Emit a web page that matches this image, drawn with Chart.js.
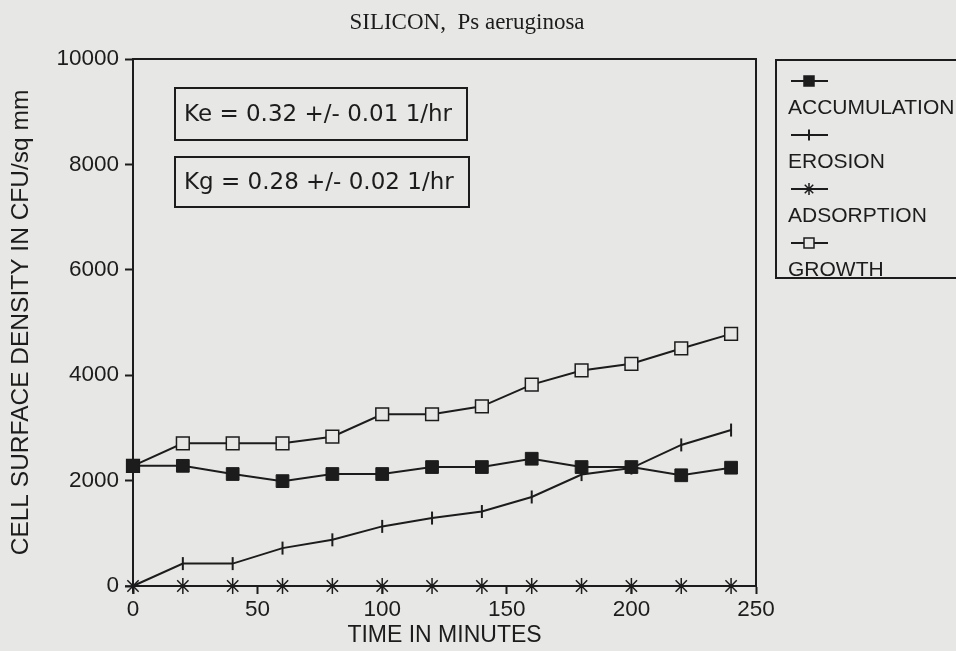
<!DOCTYPE html>
<html>
<head>
<meta charset="utf-8">
<script src="https://cdn.jsdelivr.net/npm/chart.js@4.4.1/dist/chart.umd.min.js"></script>
<style>
  html, body { margin: 0; padding: 0; background: #e7e7e5; }
  #wrap { width: 956px; height: 651px; position: relative; }
</style>
</head>
<body>
<div id="wrap"><canvas id="c" width="956" height="651"></canvas></div>
<script>
// ---- data ----
const chartTitle = "SILICON,  Ps aeruginosa";
const xTitle = "TIME IN MINUTES";
const yTitle = "CELL SURFACE DENSITY IN CFU/sq mm";
const seriesNames = ["ACCUMULATION", "EROSION", "ADSORPTION", "GROWTH"];
const timeMinutes = [0, 20, 40, 60, 80, 100, 120, 140, 160, 180, 200, 220, 240];
const accumulation = [2280, 2280, 2125, 1990, 2125, 2125, 2257, 2257, 2415, 2257, 2257, 2101, 2245];
const erosion = [0, 425, 425, 719, 876, 1131, 1289, 1413, 1689, 2114, 2238, 2677, 2959];
const adsorption = [0, 0, 0, 0, 0, 0, 0, 0, 0, 0, 0, 0, 0];
const growth = [2280, 2707, 2707, 2707, 2833, 3259, 3259, 3409, 3822, 4090, 4216, 4508, 4784];
const xTicks = [0, 50, 100, 150, 200, 250];
const yTicks = [0, 2000, 4000, 6000, 8000, 10000];
const annotations = ["Ke = 0.32 +/- 0.01 1/hr", "Kg = 0.28 +/- 0.02 1/hr"];

// ---- styles ----
const BG = '#e7e7e5';
const INK = '#1c1c1c';
const pts = (ys) => timeMinutes.map((t, i) => ({ x: t, y: ys[i] }));

const styles = [
  { pointStyle: 'rect', pointRadius: 9, pointBackgroundColor: INK, pointBorderWidth: 1, pointRotation: 0 },
  { pointStyle: 'line', pointRadius: 6.5, pointBackgroundColor: INK, pointBorderWidth: 2, pointRotation: 90 },
  { pointStyle: 'star', pointRadius: 8, pointBackgroundColor: INK, pointBorderWidth: 1.5, pointRotation: 0 },
  { pointStyle: 'rect', pointRadius: 9, pointBackgroundColor: BG, pointBorderWidth: 1.5, pointRotation: 0 }
];
const seriesData = [accumulation, erosion, adsorption, growth];

const datasets = seriesNames.map((name, i) => Object.assign({
  label: name,
  data: pts(seriesData[i]),
  borderColor: INK,
  borderWidth: 2,
  pointBorderColor: INK,
  tension: 0,
  fill: false,
  clip: false
}, styles[i]));

// ---- plugins ----
const bgPlugin = {
  id: 'bg',
  beforeDraw(chart) {
    const ctx = chart.ctx;
    ctx.save();
    ctx.fillStyle = BG;
    ctx.fillRect(0, 0, chart.width, chart.height);
    ctx.restore();
  }
};

function marker(ctx, style, x, y, r, fill) {
  ctx.save();
  ctx.strokeStyle = INK;
  ctx.fillStyle = fill;
  ctx.lineWidth = 1.5;
  ctx.beginPath();
  if (style === 'rect') {
    ctx.rect(x - r, y - r, 2 * r, 2 * r);
    ctx.fill(); ctx.stroke();
  } else if (style === 'line') {
    ctx.lineWidth = 2;
    ctx.moveTo(x, y - r); ctx.lineTo(x, y + r); ctx.stroke();
  } else if (style === 'star') {
    ctx.moveTo(x, y - r); ctx.lineTo(x, y + r);
    ctx.moveTo(x - r, y); ctx.lineTo(x + r, y);
    const d = r * 0.7071;
    ctx.moveTo(x - d, y - d); ctx.lineTo(x + d, y + d);
    ctx.moveTo(x - d, y + d); ctx.lineTo(x + d, y - d);
    ctx.stroke();
  }
  ctx.restore();
}

const decorPlugin = {
  id: 'decor',
  afterDraw(chart) {
    const ctx = chart.ctx;
    const a = chart.chartArea;
    ctx.save();
    // frame top and right
    ctx.strokeStyle = INK;
    ctx.lineWidth = 2;
    ctx.beginPath();
    ctx.moveTo(a.left, a.top); ctx.lineTo(a.right, a.top); ctx.lineTo(a.right, a.bottom);
    ctx.stroke();

    // title
    ctx.fillStyle = INK;
    ctx.font = '23px "Liberation Serif", "DejaVu Serif", serif';
    ctx.textAlign = 'center';
    ctx.textBaseline = 'alphabetic';
    ctx.fillText(chartTitle, 467, 29);

    // annotation boxes
    const boxes = [
      { l: 175, t: 88, r: 467, b: 140 },
      { l: 175, t: 157, r: 469, b: 207 }
    ];
    ctx.font = '23px "DejaVu Sans", sans-serif';
    ctx.textAlign = 'left';
    ctx.textBaseline = 'middle';
    boxes.forEach((bx, i) => {
      ctx.lineWidth = 2;
      ctx.strokeRect(bx.l, bx.t, bx.r - bx.l, bx.b - bx.t);
      ctx.fillText(annotations[i], bx.l + 9, (bx.t + bx.b) / 2 + 1);
    });

    // legend box
    ctx.lineWidth = 2;
    ctx.strokeRect(776, 60, 200, 218);
    ctx.font = '21px "Liberation Sans", Arial, sans-serif';
    chart.data.datasets.forEach((ds, i) => {
      const sy = 81 + i * 54;
      ctx.lineWidth = 2;
      ctx.beginPath();
      ctx.moveTo(791, sy); ctx.lineTo(828, sy);
      ctx.stroke();
      const st = ds.pointStyle;
      const fill = ds.pointBackgroundColor;
      const r = st === 'rect' ? 5 : (st === 'star' ? 6 : 5.5);
      marker(ctx, st, 809, sy, r, fill);
      ctx.fillStyle = INK;
      ctx.textBaseline = 'middle';
      ctx.fillText(ds.label, 788, sy + 27);
    });
    ctx.restore();
  }
};

new Chart(document.getElementById('c'), {
  type: 'line',
  data: { datasets },
  plugins: [bgPlugin, decorPlugin],
  options: {
    responsive: false,
    animation: false,
    devicePixelRatio: 1,
    layout: { padding: { top: 59, right: 200, left: 0, bottom: 0 } },
    plugins: { legend: { display: false }, tooltip: { enabled: false }, title: { display: false } },
    scales: {
      x: {
        type: 'linear',
        min: xTicks[0],
        max: xTicks[xTicks.length - 1],
        afterBuildTicks(scale) { scale.ticks = xTicks.map(v => ({ value: v })); },
        afterFit(scale) { scale.height = 65; },
        ticks: { color: INK, padding: 2, font: { family: '"Liberation Sans", Arial, sans-serif', size: 22.5 }, maxRotation: 0, autoSkip: false },
        grid: { display: true, drawOnChartArea: false, drawTicks: true, tickLength: 8, tickWidth: 2, tickColor: INK },
        border: { display: true, color: INK, width: 2 },
        title: { display: true, text: xTitle, color: INK, padding: { top: 0, bottom: 2 }, font: { family: '"Liberation Sans", Arial, sans-serif', size: 23 } }
      },
      y: {
        type: 'linear',
        min: yTicks[0],
        max: yTicks[yTicks.length - 1],
        afterBuildTicks(scale) { scale.ticks = yTicks.map(v => ({ value: v })); },
        afterFit(scale) { scale.width = 133; },
        ticks: { color: INK, padding: 6, font: { family: '"Liberation Sans", Arial, sans-serif', size: 22.5 }, callback: v => String(v) },
        grid: { display: true, drawOnChartArea: false, drawTicks: true, tickLength: 8, tickWidth: 2, tickColor: INK },
        border: { display: true, color: INK, width: 2 },
        title: { display: true, text: yTitle, color: INK, padding: { top: 7, bottom: 0 }, font: { family: '"Liberation Sans", Arial, sans-serif', size: 24.5 } }
      }
    }
  }
});
</script>
</body>
</html>
